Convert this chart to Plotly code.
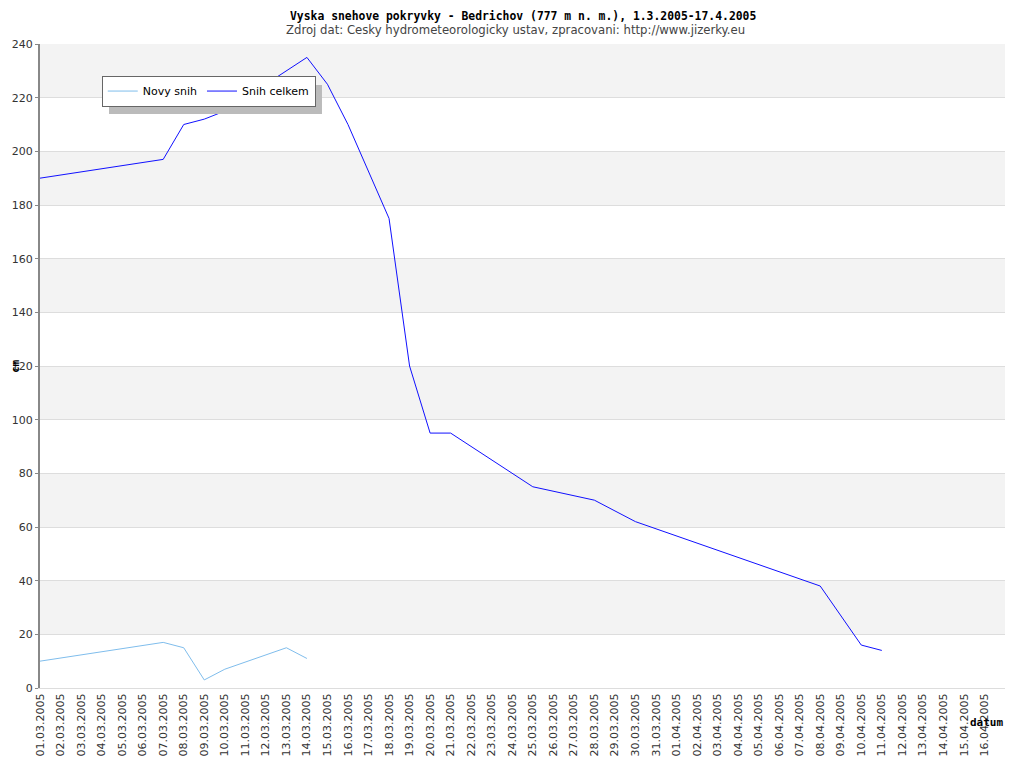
import plotly.graph_objects as go

# dny 01.03.2005 - 17.04.2005
dates = ['%02d.03.2005' % d for d in range(1, 32)] + ['%02d.04.2005' % d for d in range(1, 18)]

# None = hodnota neni k dispozici (cara se propoji)
novy_snih = [10, None, None, None, None, None, 17, 15, 3, 7, None, None, 15, 11]

snih_celkem = [190, None, None, None, None, None, 197, 210, 212, 215, None, None, None, 235,
               225, 210, None, 175, 120, 95, 95, None, None, None, 75, None, None, 70,
               None, 62, None, None, None, None, None, None, None, None, 38, None, 16, 14]

y_ticks = list(range(0, 241, 20))

fig = go.Figure()

fig.add_trace(go.Scatter(
    x=list(range(len(novy_snih))), y=novy_snih, name='Novy snih', mode='lines',
    line=dict(color='#7fbdec', width=1), connectgaps=True
))
fig.add_trace(go.Scatter(
    x=list(range(len(snih_celkem))), y=snih_celkem, name='Snih celkem', mode='lines',
    line=dict(color='#1010ff', width=1), connectgaps=True
))

# stridave pruhy pozadi
shapes = []
for lo in y_ticks[1:-1:2]:
    shapes.append(dict(type='rect', xref='paper', yref='y', x0=0, x1=1, y0=lo, y1=lo + 20,
                       fillcolor='#f3f3f3', line=dict(width=0), layer='below'))
# stin legendy
shapes.append(dict(type='rect', xref='paper', yref='paper', x0=0.0715, x1=0.2922, y0=0.8913, y1=0.9363,
                   fillcolor='#bbbbbb', line=dict(width=0), layer='above'))

# stranka ma okraj 8 px, proto je obrazek o 8 px mensi
fig.update_layout(
    width=1016, height=760,
    margin=dict(l=32, r=19, t=36, b=80),
    paper_bgcolor='white', plot_bgcolor='white',
    font=dict(family='DejaVu Sans', size=11, color='#333333'),
    shapes=shapes,
    showlegend=True,
    legend=dict(orientation='h', x=0.064, y=0.951, xanchor='left', yanchor='top',
                bgcolor='white', bordercolor='#666666', borderwidth=1,
                font=dict(family='DejaVu Sans', size=11, color='#000000'),
                itemwidth=30, tracegroupgap=0),
    xaxis=dict(range=[0, len(dates) - 1], tickmode='array',
               tickvals=list(range(len(dates) - 1)), ticktext=dates[:-1],
               tickangle=-90, showgrid=False, zeroline=False, automargin=False,
               showline=True, linecolor='#dddddd', mirror=False,
               tickfont=dict(size=11, color='#333333')),
    yaxis=dict(range=[0, 240], tickmode='array', tickvals=y_ticks, automargin=False,
               showgrid=True, gridcolor='#dddddd', gridwidth=1, zeroline=False,
               showline=True, linecolor='#888888', linewidth=2,
               ticks='outside', ticklen=3, tickcolor='#888888',
               tickfont=dict(size=11, color='#333333')),
    annotations=[
        dict(text='<b>Vyska snehove pokryvky - Bedrichov (777 m n. m.), 1.3.2005-17.4.2005</b>',
             xref='paper', yref='paper', x=0.5, y=1, yshift=36, xanchor='center', yanchor='top',
             showarrow=False, borderpad=0,
             font=dict(family='DejaVu Sans Mono', size=11.4, color='#000000')),
        dict(text='Zdroj dat: Cesky hydrometeorologicky ustav, zpracovani: http://www.jizerky.eu',
             xref='paper', yref='paper', x=0.5, y=1, xshift=-7, yshift=14, xanchor='center', yanchor='middle',
             showarrow=False, font=dict(family='DejaVu Sans', size=11.7, color='#444444')),
        dict(text='<b>cm</b>', xref='paper', yref='paper', x=0, xshift=-25, y=0.5, textangle=-90,
             xanchor='center', yanchor='middle', showarrow=False, borderpad=0,
             font=dict(family='DejaVu Sans Mono', size=11, color='#000000')),
        dict(text='<b>datum</b>', xref='paper', yref='paper', x=1, y=0, yshift=-34,
             xanchor='right', yanchor='middle', showarrow=False,
             font=dict(family='DejaVu Sans Mono', size=11, color='#000000')),
    ],
)

fig.write_html('out.html')
